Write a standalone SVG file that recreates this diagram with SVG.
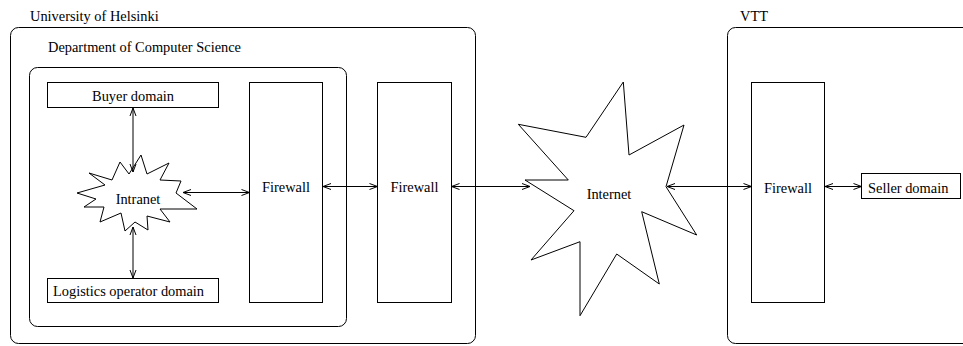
<svg xmlns="http://www.w3.org/2000/svg" width="963" height="346" viewBox="0 0 963 346">
  <defs>
    <marker id="arrow" viewBox="-1 -4 10 8" refX="8" refY="0" markerWidth="10" markerHeight="8" markerUnits="userSpaceOnUse" orient="auto-start-reverse">
      <path d="M0,-3 L8,0 L0,3" fill="none" stroke="#000" stroke-width="1"/>
    </marker>
  </defs>
  <style>
    .box { fill: none; stroke: #000; stroke-width: 1; }
    .node { fill: #fff; stroke: #000; stroke-width: 1; }
    .star { fill: #fff; stroke: #000; stroke-width: 1; stroke-linejoin: miter; }
    .lbl { font-family: "Liberation Serif", "Times New Roman", serif; font-size: 14.4px; fill: #000; }
    .mid { text-anchor: middle; }
    .conn { fill: none; stroke: #000; stroke-width: 1; marker-start: url(#arrow); marker-end: url(#arrow); }
  </style>
  <rect width="963" height="346" fill="#fff"/>

  <!-- organisations -->
  <g id="helsinki">
    <rect class="box" x="10.5" y="27.5" width="465" height="316" rx="8"/>
    <text class="lbl" x="30" y="20.5">University of Helsinki</text>
  </g>
  <g id="dept-cs">
    <rect class="box" x="29.5" y="67.5" width="317" height="259" rx="8"/>
    <text class="lbl" x="48" y="51.5">Department of Computer Science</text>
  </g>
  <g id="vtt">
    <rect class="box" x="727.5" y="27.5" width="250" height="316" rx="8"/>
    <text class="lbl" x="740" y="20.5">VTT</text>
  </g>

  <!-- domains -->
  <g id="buyer">
    <rect class="node" x="47.5" y="82.5" width="171" height="25"/>
    <text class="lbl mid" x="133" y="101">Buyer domain</text>
  </g>
  <g id="logistics">
    <rect class="node" x="47.5" y="278.5" width="171" height="24"/>
    <text class="lbl" x="53" y="296">Logistics operator domain</text>
  </g>
  <g id="seller">
    <rect class="node" x="861.5" y="173.5" width="99" height="25"/>
    <text class="lbl" x="868" y="193">Seller domain</text>
  </g>

  <!-- firewalls -->
  <g id="firewall-dept">
    <rect class="node" x="249.5" y="82.5" width="73" height="220"/>
    <text class="lbl mid" x="286" y="192">Firewall</text>
  </g>
  <g id="firewall-univ">
    <rect class="node" x="377.5" y="82.5" width="74" height="220"/>
    <text class="lbl mid" x="414.5" y="192">Firewall</text>
  </g>
  <g id="firewall-vtt">
    <rect class="node" x="751.5" y="82.5" width="73" height="220"/>
    <text class="lbl mid" x="788" y="193">Firewall</text>
  </g>

  <!-- networks -->
  <g id="intranet">
    <polygon class="star" points="77,193 105,185 89,173 112,180 120,162 129,174 141,155 147,174 169,163 160,180 181,181 176,193 197,209 160,209 170,222 147,216 148,230 135,222 125,231 121,213 100,222 104,207 84,207 96,199"/>
    <text class="lbl mid" x="138" y="204">Intranet</text>
  </g>
  <g id="internet">
    <polygon class="star" points="623.3,82 629,155 684,125 666,186.7 696.7,235 641.7,211.7 659.3,284 616.7,254 580,315.7 580,241.7 531,260 574,210.7 525,180 568.3,180 518.3,124.3 586,137.3"/>
    <text class="lbl mid" x="609" y="199">Internet</text>
  </g>

  <!-- connectors -->
  <g id="connectors">
    <line class="conn" x1="133" y1="108" x2="133" y2="172"/>
    <line class="conn" x1="133" y1="227" x2="133" y2="278"/>
    <line class="conn" x1="183" y1="192.5" x2="249.5" y2="192.5"/>
    <line class="conn" x1="323" y1="186.5" x2="377.5" y2="186.5"/>
    <line class="conn" x1="451.5" y1="186.5" x2="530" y2="186.5"/>
    <line class="conn" x1="667" y1="186.5" x2="751.5" y2="186.5"/>
    <line class="conn" x1="825" y1="186.5" x2="861.5" y2="186.5"/>
  </g>
</svg>
